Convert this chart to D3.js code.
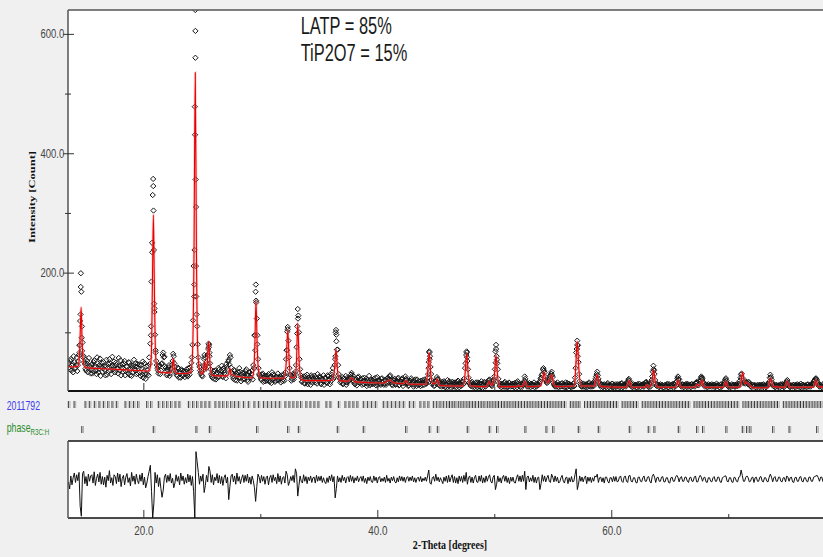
<!DOCTYPE html>
<html>
<head>
<meta charset="utf-8">
<script src="https://cdn.jsdelivr.net/npm/d3@7"></script>
<style>
  body { margin: 0; background: #f0f0f0; }
  svg { display: block; }
</style>
</head>
<body>
<svg id="chart"></svg>
<script>
// ---- data ----
// observed counts, one row per degree; two interleaved scans (x.x0 and x.x5)
var scanStart = 13.6, scanStep = 0.1;
var obsRows = [
  [48, 38, 55, 44, 33, 50, 41, 58, 45, 62],
  [119, 168, 83, 60, 47, 36, 52, 40, 44, 31],
  [46, 35, 53, 41, 30, 48, 39, 56, 42, 34],
  [50, 37, 43, 29, 47, 55, 36, 44, 38, 51],
  [33, 45, 40, 57, 36, 28, 46, 39, 52, 35],
  [42, 31, 49, 38, 27, 44, 54, 36, 30, 47],
  [40, 33, 45, 29, 24, 48, 22, 30, 44, 58],
  [81, 185, 330, 238, 96, 52, 40, 31, 45, 36],
  [48, 66, 59, 40, 28, 37, 45, 31, 38, 52],
  [60, 42, 33, 27, 39, 31, 24, 36, 29, 34],
  [30, 38, 26, 33, 41, 49, 79, 211, 478, 310],
  [110, 58, 42, 31, 28, 36, 55, 44, 50, 62],
  [75, 48, 30, 24, 35, 28, 21, 33, 40, 26],
  [30, 44, 25, 36, 29, 47, 38, 54, 62, 41],
  [30, 22, 35, 27, 19, 33, 40, 24, 29, 21],
  [31, 26, 38, 20, 28, 33, 24, 36, 45, 95],
  [168, 123, 55, 30, 26, 20, 31, 24, 18, 27],
  [22, 30, 17, 26, 33, 21, 28, 19, 25, 31],
  [20, 27, 23, 18, 29, 26, 55, 101, 86, 40],
  [28, 22, 30, 25, 34, 75, 139, 100, 38, 24],
  [18, 26, 14, 23, 29, 17, 21, 12, 25, 20],
  [27, 16, 22, 30, 19, 24, 13, 21, 28, 18],
  [23, 15, 26, 20, 17, 29, 40, 25, 55, 96],
  [71, 30, 22, 18, 25, 14, 20, 27, 16, 21],
  [19, 25, 32, 28, 17, 13, 22, 18, 26, 15],
  [21, 12, 18, 24, 15, 10, 20, 27, 14, 19],
  [13, 22, 17, 11, 25, 16, 19, 12, 23, 18],
  [14, 20, 15, 24, 21, 28, 16, 11, 19, 22],
  [13, 18, 24, 12, 17, 21, 10, 16, 26, 20],
  [15, 11, 19, 23, 13, 9, 18, 14, 21, 12],
  [17, 10, 15, 20, 12, 18, 14, 24, 50, 60],
  [30, 13, 17, 11, 19, 25, 21, 12, 16, 9],
  [14, 18, 8, 12, 20, 10, 15, 7, 17, 13],
  [9, 16, 12, 19, 8, 14, 11, 17, 22, 40],
  [62, 52, 24, 14, 10, 17, 12, 8, 15, 11],
  [16, 9, 13, 18, 7, 12, 15, 10, 14, 19],
  [21, 13, 10, 17, 26, 68, 60, 38, 15, 11],
  [8, 14, 11, 17, 7, 13, 10, 15, 9, 12],
  [14, 8, 11, 16, 18, 10, 13, 7, 12, 15],
  [26, 17, 9, 12, 15, 8, 13, 10, 16, 11],
  [9, 14, 12, 18, 24, 30, 40, 33, 20, 15],
  [17, 22, 28, 34, 25, 13, 9, 12, 16, 8],
  [13, 10, 15, 9, 12, 16, 8, 11, 14, 10],
  [12, 9, 15, 24, 66, 79, 50, 18, 12, 9],
  [14, 10, 8, 13, 11, 16, 9, 12, 15, 10],
  [18, 26, 34, 22, 14, 9, 12, 8, 13, 10],
  [11, 15, 8, 12, 9, 14, 10, 7, 13, 11],
  [9, 13, 10, 15, 8, 12, 11, 14, 17, 22],
  [16, 10, 8, 13, 9, 12, 7, 11, 14, 8],
  [10, 13, 9, 15, 17, 11, 8, 12, 16, 26],
  [44, 30, 14, 10, 12, 8, 13, 9, 11, 7],
  [12, 9, 14, 8, 11, 10, 13, 7, 12, 15],
  [18, 26, 21, 12, 9, 13, 8, 11, 10, 14],
  [9, 12, 8, 13, 10, 11, 15, 17, 12, 14],
  [19, 26, 22, 14, 9, 12, 8, 13, 10, 11],
  [13, 9, 12, 8, 14, 10, 11, 7, 13, 10],
  [12, 18, 23, 15, 9, 11, 8, 13, 10, 12],
  [9, 13, 10, 14, 19, 29, 24, 15, 17, 18],
  [16, 13, 15, 10, 8, 12, 9, 11, 7, 12],
  [10, 8, 12, 9, 13, 7, 11, 10, 14, 17],
  [29, 21, 13, 10, 8, 12, 9, 11, 7, 13],
  [10, 12, 9, 14, 18, 15, 10, 8, 11, 9],
  [12, 8, 11, 13, 9, 10, 14, 7, 12, 9],
  [11, 8, 13, 9, 12, 10, 14, 17, 20, 23],
  [18, 12, 9, 11, 8, 13, 10, 9, 12, 8]
];
var obsRowsMid = [
  [41, 52, 36, 47, 60, 39, 45, 35, 51, 78],
  [176, 110, 58, 50, 39, 48, 33, 57, 42, 38],
  [31, 50, 44, 36, 58, 33, 45, 27, 49, 40],
  [43, 28, 54, 40, 35, 48, 30, 59, 42, 37],
  [49, 39, 31, 44, 53, 41, 34, 48, 28, 43],
  [36, 50, 28, 45, 41, 33, 39, 48, 42, 31],
  [46, 27, 39, 51, 35, 30, 43, 36, 28, 47],
  [95, 250, 345, 140, 66, 45, 36, 44, 30, 47],
  [62, 58, 43, 35, 30, 41, 27, 39, 46, 64],
  [48, 36, 29, 41, 24, 33, 38, 27, 35, 25],
  [34, 28, 40, 29, 36, 58, 120, 180, 560, 130],
  [80, 47, 36, 33, 26, 44, 58, 39, 47, 72],
  [66, 38, 27, 31, 22, 36, 30, 24, 37, 29],
  [35, 27, 40, 32, 23, 42, 51, 46, 58, 33],
  [26, 37, 20, 31, 28, 24, 34, 18, 32, 27],
  [22, 35, 29, 17, 33, 25, 30, 21, 40, 95],
  [150, 95, 40, 28, 22, 29, 17, 27, 23, 19],
  [27, 19, 24, 15, 29, 23, 17, 26, 20, 24],
  [24, 16, 28, 21, 19, 33, 70, 105, 58, 29],
  [19, 27, 21, 30, 45, 98, 128, 55, 28, 17],
  [22, 15, 27, 19, 13, 24, 20, 28, 16, 23],
  [19, 25, 14, 21, 26, 15, 23, 18, 12, 24],
  [17, 28, 21, 13, 24, 33, 22, 45, 100, 71],
  [45, 24, 16, 21, 13, 23, 17, 12, 24, 19],
  [22, 29, 24, 19, 14, 20, 11, 24, 17, 21],
  [16, 23, 13, 19, 22, 14, 17, 11, 21, 15],
  [19, 14, 24, 16, 12, 20, 14, 22, 15, 12],
  [20, 12, 22, 17, 26, 19, 13, 21, 16, 12],
  [17, 22, 11, 19, 14, 23, 15, 20, 22, 14],
  [10, 17, 13, 20, 16, 12, 21, 10, 15, 18],
  [13, 19, 11, 16, 21, 14, 18, 30, 66, 42],
  [20, 15, 10, 18, 14, 22, 16, 10, 14, 17],
  [10, 16, 13, 7, 15, 18, 11, 14, 9, 16],
  [13, 8, 17, 11, 15, 10, 18, 13, 15, 48],
  [66, 38, 16, 12, 15, 9, 14, 11, 16, 8],
  [12, 15, 8, 14, 11, 17, 9, 13, 16, 20],
  [16, 11, 14, 20, 38, 72, 48, 22, 10, 14],
  [12, 9, 15, 10, 14, 8, 16, 11, 13, 10],
  [10, 15, 12, 8, 14, 12, 9, 14, 11, 18],
  [22, 12, 14, 9, 11, 14, 10, 12, 8, 13],
  [12, 11, 15, 22, 28, 38, 36, 26, 17, 19],
  [20, 26, 31, 28, 16, 11, 14, 9, 12, 11],
  [9, 14, 11, 13, 8, 12, 15, 10, 12, 8],
  [11, 14, 10, 40, 72, 78, 30, 14, 9, 12],
  [9, 13, 11, 8, 14, 10, 12, 9, 11, 14],
  [22, 30, 28, 17, 11, 13, 9, 12, 10, 8],
  [13, 9, 12, 10, 14, 8, 12, 10, 9, 13],
  [12, 8, 14, 9, 11, 13, 9, 12, 20, 19],
  [12, 13, 9, 10, 12, 8, 13, 9, 11, 12],
  [12, 9, 13, 16, 12, 10, 13, 9, 20, 34],
  [36, 20, 11, 13, 9, 11, 10, 12, 8, 11],
  [10, 12, 8, 13, 9, 12, 10, 14, 9, 11],
  [23, 22, 15, 10, 12, 9, 11, 13, 8, 12],
  [11, 9, 13, 10, 12, 9, 14, 16, 11, 17],
  [23, 24, 17, 11, 12, 10, 11, 9, 12, 9],
  [11, 12, 9, 11, 10, 12, 8, 12, 9, 12],
  [15, 21, 19, 11, 12, 9, 11, 10, 12, 9],
  [12, 10, 13, 11, 24, 31, 19, 17, 14, 16],
  [14, 17, 12, 9, 11, 10, 12, 8, 10, 9],
  [12, 10, 9, 12, 10, 11, 8, 13, 12, 24],
  [25, 16, 10, 12, 9, 10, 11, 9, 12, 10],
  [13, 8, 12, 16, 20, 12, 9, 11, 10, 12],
  [10, 12, 9, 11, 12, 8, 11, 12, 9, 11],
  [9, 12, 10, 11, 9, 13, 12, 19, 22, 21],
  [15, 10, 12, 9, 11, 10, 12, 11, 9, 10]
];
// extra observed points on the steep peak flanks [2theta, counts]
var obsPeakPoints = [
  [14.66, 199], [14.64, 130], [14.73, 91], [14.58, 79], [14.76, 69], [14.55, 66],
  [20.84, 357], [20.87, 304], [20.76, 234], [20.92, 148], [20.95, 134], [20.66, 110], [21.04, 70],
  [24.44, 640], [24.45, 605], [24.42, 431], [24.47, 356], [24.38, 238], [24.49, 211], [24.52, 160], [24.35, 160],
  [25.58, 81], [25.62, 79], [25.66, 60], [25.22, 62],
  [29.62, 180], [29.64, 153], [29.57, 70], [29.74, 80],
  [32.34, 109], [32.28, 70], [33.22, 123], [33.16, 110],
  [36.47, 104], [36.5, 85], [36.42, 60],
  [44.44, 68], [44.47, 55], [44.38, 40],
  [47.64, 68], [47.67, 58],
  [50.15, 79], [50.12, 49], [50.22, 54],
  [57.09, 86], [57.05, 72], [57.13, 60],
  [63.63, 38]
];
// calculated profile [2theta, counts]
var calcProfile = [
  [13.5, 43], [14.0, 42], [14.4, 43], [14.52, 55], [14.6, 95], [14.68, 142], [14.76, 90], [14.85, 55], [14.98, 42],
  [15.5, 40], [16.5, 39], [17.5, 38], [18.5, 37], [19.5, 36], [20.4, 35],
  [20.55, 38], [20.68, 60], [20.77, 170], [20.86, 297], [20.95, 165], [21.04, 65], [21.18, 38], [21.4, 33],
  [22.3, 32], [22.45, 37], [22.56, 56], [22.68, 37], [22.9, 31], [23.6, 31], [24.05, 33],
  [24.2, 62], [24.33, 230], [24.44, 535], [24.54, 230], [24.65, 70], [24.8, 38], [25.0, 30],
  [25.12, 33], [25.22, 52], [25.32, 36], [25.45, 45], [25.58, 85], [25.7, 48], [25.85, 29],
  [26.2, 27], [27.2, 27], [27.32, 33], [27.4, 40], [27.5, 30], [28.0, 26], [29.3, 24],
  [29.45, 38], [29.54, 85], [29.63, 153], [29.72, 85], [29.83, 38], [30.0, 24], [31.0, 23], [32.05, 23],
  [32.2, 45], [32.35, 104], [32.47, 50], [32.6, 24], [32.95, 24], [33.08, 45], [33.2, 115], [33.32, 50], [33.5, 21],
  [34.0, 19], [35.5, 19], [36.2, 20], [36.34, 38], [36.47, 72], [36.6, 36], [36.78, 19],
  [37.5, 18], [37.8, 24], [38.1, 17], [39.0, 16], [40.5, 15], [41.1, 20], [41.4, 15], [42.2, 14], [42.45, 19], [42.7, 13],
  [44.15, 13], [44.3, 32], [44.44, 66], [44.57, 30], [44.75, 14], [45.0, 15], [45.13, 22], [45.3, 11],
  [47.35, 10], [47.5, 30], [47.64, 65], [47.78, 28], [47.95, 10],
  [49.35, 9], [49.57, 18], [49.75, 11], [49.95, 18], [50.05, 38], [50.15, 62], [50.27, 30], [50.42, 9],
  [51.9, 9], [52.05, 11], [52.25, 9], [52.45, 10], [52.62, 18], [52.8, 9],
  [53.95, 10], [54.12, 20], [54.25, 34], [54.4, 20], [54.6, 15], [54.9, 29], [55.1, 12], [55.3, 9],
  [56.85, 10], [56.97, 45], [57.09, 85], [57.22, 42], [57.4, 10],
  [58.55, 10], [58.68, 20], [58.8, 29], [58.95, 14], [59.2, 9],
  [61.3, 8], [61.54, 19], [61.75, 8], [62.9, 8], [63.05, 12], [63.2, 8], [63.45, 14], [63.62, 37], [63.78, 15], [64.0, 8],
  [65.5, 8], [65.73, 20], [65.95, 8], [67.15, 8], [67.35, 13], [67.52, 10], [67.75, 20], [67.95, 8],
  [69.6, 8], [69.8, 18], [70.0, 8], [71.0, 8], [71.23, 33], [71.42, 14], [71.57, 16], [71.85, 11], [72.1, 7],
  [73.4, 7], [73.6, 23], [73.85, 9], [74.85, 8], [75.04, 18], [75.25, 8], [77.3, 8], [77.5, 20], [77.7, 9], [78.2, 8]
];
// difference curve, 0.1 step from 13.6
var diffStart = 13.6, diffStep = 0.1;
var diffRows = [
  [-4, -16, 6, -9, 3, 11, -5, 8, -2, 12],
  [-45, -62, 10, 14, -7, 5, -11, 9, -3, 6],
  [8, -6, 13, -10, 2, 9, -4, 12, -8, 5],
  [-9, 4, -13, 7, -2, 15, -6, 3, -10, 8],
  [5, -7, 11, -4, 9, -12, 2, 7, -9, 4],
  [10, -5, 3, -11, 12, -3, 6, -8, 9, -2],
  [-7, 8, -3, 11, -9, 4, -14, -6, 5, 14],
  [24, -20, -65, -40, 12, -6, 8, -12, 3, -15],
  [-30, -18, 4, 9, -5, 7, -3, 10, -6, 2],
  [-14, -6, 8, -3, 5, -9, 11, -2, 6, -8],
  [3, -6, 9, -4, 7, -10, 5, -20, -65, 47],
  [30, 12, -8, 6, -3, 9, -22, -10, 7, -4],
  [22, 14, -5, 8, -9, 4, -2, 10, -6, 7],
  [-7, 5, -10, 3, 8, -6, 4, -34, -12, 6],
  [9, -4, 6, -8, 11, -3, 5, -7, 2, 8],
  [-5, 7, -3, 9, -6, 4, -8, 6, -2, -14],
  [-37, -12, 9, 4, -6, 7, -3, 5, -8, 3],
  [6, -9, 3, 7, -5, 8, -2, 4, -7, 10],
  [-4, 6, -8, 3, 5, -6, 14, 8, -10, -4],
  [5, -2, 7, -5, 18, 10, -28, -10, 6, -3],
  [-6, 8, -3, 5, -7, 4, -2, 6, -5, 3],
  [4, -6, 7, -3, 5, -2, 6, -5, 3, -4],
  [-7, 3, -5, 6, -2, 8, -4, 5, -31, -15],
  [6, -4, 3, -5, 7, -2, 4, -6, 3, 5],
  [-4, 7, -3, 5, -6, 3, -2, 6, -4, 2],
  [5, -3, 6, -5, 2, -7, 4, -2, 5, -4],
  [-5, 6, -2, 4, -6, 3, 5, -4, 2, -3],
  [4, -5, 7, -3, 2, -6, 4, -2, 5, -4],
  [-6, 3, -4, 6, -2, 5, -3, 4, -5, 3],
  [5, -3, 4, -2, 6, -4, 3, -5, 2, 4],
  [-3, 5, -4, 2, -2, 4, -3, 6, 16, -6],
  [-8, 3, 5, -3, 9, -2, 4, -4, 3, -2],
  [-7, 4, -3, 6, -5, 7, -4, 3, 8, -5],
  [5, -6, 3, -7, 6, -3, 5, -5, 7, -3],
  [12, -8, 3, 6, -5, 4, -6, 3, 7, -4],
  [-5, 6, -3, 7, -6, 3, -5, 6, -3, 4],
  [8, -3, -6, 4, 7, -17, -8, 6, -4, 3],
  [-6, 4, 7, -3, 6, -5, 3, -7, 4, -3],
  [4, -5, -6, 3, 8, -3, 6, -4, 7, -3],
  [14, -17, 4, 6, -4, 3, -3, 7, -5, 4],
  [-6, 3, 4, -17, -7, 8, -3, 6, -4, 3],
  [7, -3, -5, 9, 4, -4, 6, -3, 4, -6],
  [-4, 3, 7, -3, -6, 3, 4, -7, 3, -4],
  [5, -4, -3, 8, 18, -17, -8, 6, -3, 4],
  [-4, 3, 6, -7, 4, -3, 4, -5, 3, -3],
  [6, 4, 9, -5, 3, 4, -4, 3, -6, 4],
  [4, -3, -6, 3, 3, -4, 5, -3, 5, -4],
  [-3, 4, 6, -3, -5, 4, 6, -3, -5, 6],
  [7, -3, -4, 3, 3, -5, -6, 4, 4, -3],
  [-4, 3, 6, -3, -3, 4, 5, -3, -6, 5],
  [9, 4, -5, 3, 4, -3, -3, 4, 5, -4],
  [-4, 3, 3, -5, -6, 3, 4, -3, -3, 4],
  [7, 4, -4, 3, 5, -3, -3, 4, 4, -3],
  [-5, 3, 4, -3, -3, 4, 6, -4, -4, 3],
  [7, 4, -3, 3, 4, -4, -5, 3, 3, -3],
  [-4, 3, 5, -3, -3, 4, 4, -4, -5, 3],
  [4, 6, 6, -3, -4, 3, 3, -4, -5, 4],
  [3, -3, -4, 4, 5, 16, 7, -3, -3, 4],
  [6, 3, -4, -3, 3, 4, -5, 3, 4, -3],
  [-3, 4, 5, -3, -4, 3, 3, -3, -4, 4],
  [9, 4, -4, 3, 5, -3, -3, 4, 4, -3],
  [-4, 3, 3, -4, 6, 4, -3, 3, 4, -4],
  [-5, 3, 4, -3, -3, 4, 5, -3, -4, 3],
  [3, -3, -4, 4, 4, -3, -3, 4, 5, 6],
  [7, 3, -3, 4, 4, -4, -3, 3, 3, -3]
];
// reflection markers (2theta)
var ticksTiP2O7 = [
  13.59, 14.08, 15.02, 15.38, 15.81, 16.21, 16.58, 16.96, 17.32, 17.69, 18.44, 18.80, 19.15, 19.52,
  20.29, 20.63, 21.28, 21.66, 22.00, 22.34, 22.71, 23.05, 23.85, 24.22, 24.56, 24.93, 25.27, 25.62,
  26.13, 26.47, 26.79, 27.13, 27.47, 27.78, 28.12, 28.55, 28.97, 29.46, 29.83, 30.26, 30.60, 30.94,
  31.28, 31.62, 32.11, 32.45, 32.79, 33.13, 33.45, 33.90, 34.25, 34.59, 34.93, 35.62, 35.96, 36.67,
  37.24, 37.58, 37.92, 38.26, 38.80, 39.15, 39.49, 39.83, 40.51, 40.85, 41.20, 41.54, 41.88, 42.22,
  42.74, 43.08, 43.65, 43.99, 44.33, 44.79, 45.08, 45.36, 45.64, 45.93, 46.17, 46.40, 46.63, 46.92,
  47.15, 47.40, 47.66, 47.90, 48.15, 48.38, 48.65, 48.88, 49.12, 49.40, 49.63, 49.88, 50.13, 50.36,
  50.62, 50.85, 51.10, 51.34, 51.60, 51.83, 52.08, 52.32, 52.58, 52.82, 53.06, 53.30, 53.56, 53.80,
  54.04, 54.30, 54.55, 54.78, 55.02, 55.27, 55.52, 55.76, 56.00, 56.50, 56.74, 56.99, 57.23, 57.72,
  57.98, 58.22, 58.46, 58.72, 58.96, 59.20, 59.45, 59.70, 59.94, 60.19, 60.44, 60.93, 61.18, 61.42,
  61.67, 61.91, 62.16, 62.65, 62.90, 63.14, 63.39, 63.64, 63.88, 64.13, 64.37, 64.62, 64.87, 65.11,
  65.36, 65.60, 65.85, 66.10, 66.34, 66.59, 67.08, 67.33, 67.57, 67.82, 68.06, 68.31, 68.56, 68.80,
  69.05, 69.29, 69.54, 69.79, 70.03, 70.28, 70.52, 70.77, 71.26, 71.51, 71.75, 72.00, 72.25, 72.49,
  72.74, 72.98, 73.23, 73.48, 73.72, 73.97, 74.21, 74.71, 74.95, 75.20, 75.44, 75.69, 75.94, 76.18,
  76.43, 76.67, 76.92, 77.17, 77.41, 77.66, 77.90
];
var ticksLATP = [
  14.74, 20.85, 24.50, 25.64, 29.69, 32.34, 33.25, 36.58, 38.80, 42.43, 44.44, 45.13, 47.69, 49.57,
  50.20, 52.62, 54.42, 55.00, 57.18, 58.89, 61.54, 63.16, 63.65, 65.73, 67.30, 67.81, 69.80, 71.20,
  71.57, 71.85, 73.80, 75.20, 77.56
];
var yMajor = [200, 400, 600], yMinor = [100, 300, 500];
var xMajor = [20, 40, 60], xMinor = [30, 50, 70];
var notes = ["LATP = 85%", "TiP2O7 = 15%"];

// ---- layout ----
var width = 823, height = 557;
var sans = "'Liberation Sans', Arial, sans-serif";
var serif = "'Liberation Serif', 'Times New Roman', serif";

var svg = d3.select("#chart").attr("width", width).attr("height", height);
svg.append("rect").attr("width", width).attr("height", height).attr("fill", "#f0f0f0");

var x = d3.scaleLinear().domain([13.56, 78.1]).range([68, 823]);
var y = d3.scaleLinear().domain([0, 640]).range([392, 10]);
var yDiff = d3.scaleLinear().domain([-65, 65]).range([518, 441]);

// white panels
svg.append("rect").attr("x", 68).attr("y", 10).attr("width", 760).attr("height", 381).attr("fill", "#fff");
svg.append("rect").attr("x", 68).attr("y", 441).attr("width", 760).attr("height", 77).attr("fill", "#fff");

var defs = svg.append("defs");
defs.append("clipPath").attr("id", "clipMain").append("rect")
    .attr("x", 68).attr("y", 10).attr("width", 760).attr("height", 381);
defs.append("clipPath").attr("id", "clipDiff").append("rect")
    .attr("x", 68).attr("y", 441).attr("width", 760).attr("height", 77);

var main = svg.append("g").attr("clip-path", "url(#clipMain)");

// observed points (both interleaved scans + flank points)
var obsPoints = [];
d3.merge(obsRows).forEach(function(c, i) {
    obsPoints.push([scanStart + i * scanStep, c]);
});
d3.merge(obsRowsMid).forEach(function(c, i) {
    obsPoints.push([scanStart + scanStep / 2 + i * scanStep, c]);
});
obsPoints = obsPoints.concat(obsPeakPoints);

var diamond = d3.symbol().type(d3.symbolDiamond2 || d3.symbolDiamond).size(18);
main.selectAll("path.obs")
    .data(obsPoints)
    .enter().append("path")
    .attr("class", "obs")
    .attr("d", diamond)
    .attr("transform", function(d) { return "translate(" + x(d[0]) + "," + y(d[1]) + ")"; })
    .attr("fill", "none")
    .attr("stroke", "#151515")
    .attr("stroke-width", 1);

// calculated curve (pink halo + red line)
var calcLine = d3.line()
    .x(function(d) { return x(d[0]); })
    .y(function(d) { return y(d[1]); })
    .curve(d3.curveMonotoneX);
main.append("path").datum(calcProfile)
    .attr("d", calcLine).attr("fill", "none")
    .attr("stroke", "#ff9a9a").attr("stroke-width", 2.6).attr("opacity", 0.45);
main.append("path").datum(calcProfile)
    .attr("d", calcLine).attr("fill", "none")
    .attr("stroke", "#e80000").attr("stroke-width", 1.1);

// difference curve
var diffLine = d3.line()
    .x(function(d, i) { return x(diffStart + i * diffStep); })
    .y(function(d) { return yDiff(d); });
svg.append("g").attr("clip-path", "url(#clipDiff)")
    .append("path").datum(d3.merge(diffRows))
    .attr("d", diffLine).attr("fill", "none")
    .attr("stroke", "#111").attr("stroke-width", 1);

// reflection marker rows
var rows = [
    {list: ticksTiP2O7, y1: 401, y2: 408},
    {list: ticksLATP, y1: 426, y2: 433}
];
rows.forEach(function(r) {
    var g = svg.append("g");
    g.selectAll("line.k2").data(r.list).enter().append("line")
        .attr("x1", function(d) { return x(d) + 1.6; }).attr("x2", function(d) { return x(d) + 1.6; })
        .attr("y1", r.y1).attr("y2", r.y2)
        .attr("stroke", "#aaa").attr("stroke-width", 1);
    g.selectAll("line.k1").data(r.list).enter().append("line")
        .attr("x1", function(d) { return x(d); }).attr("x2", function(d) { return x(d); })
        .attr("y1", r.y1).attr("y2", r.y2)
        .attr("stroke", "#333").attr("stroke-width", 1);
});

// frame lines
function hline(y0, c, w) {
    svg.append("line").attr("x1", 68).attr("x2", 823).attr("y1", y0).attr("y2", y0)
        .attr("stroke", c).attr("stroke-width", w);
}
function vline(y0, y1) {
    svg.append("line").attr("x1", 68).attr("x2", 68).attr("y1", y0).attr("y2", y1)
        .attr("stroke", "#555").attr("stroke-width", 1.5);
}
hline(10, "#555", 1.5);
hline(391, "#111", 2);
hline(441, "#111", 1.5);
hline(518, "#111", 1.5);
vline(10, 391);
vline(441, 518);

// y axis
var gy = svg.append("g").attr("transform", "translate(68,0)")
    .call(d3.axisLeft(y).tickValues(yMajor).tickFormat(d3.format(".1f")).tickSize(5));
gy.select(".domain").remove();
gy.selectAll(".tick line").attr("x1", 6).attr("x2", -5).attr("stroke", "#333");
gy.selectAll(".tick text")
    .attr("x", -5).attr("transform", "scale(0.76,1)")
    .attr("fill", "#444").style("font", "12.5px " + sans);
var gyMinor = svg.append("g").attr("transform", "translate(68,0)")
    .call(d3.axisLeft(y).tickValues(yMinor).tickFormat("").tickSize(3));
gyMinor.select(".domain").remove();
gyMinor.selectAll(".tick line").attr("x1", 3).attr("x2", -3).attr("stroke", "#333");

// x axis ticks on both panels
[391, 518].forEach(function(yy) {
    var gMaj = svg.append("g").attr("transform", "translate(0," + yy + ")")
        .call(d3.axisBottom(x).tickValues(xMajor).tickFormat(d3.format(".1f")).tickSize(-8));
    gMaj.select(".domain").remove();
    gMaj.selectAll(".tick line").attr("stroke", "#333");
    if (yy === 518) {
        gMaj.selectAll(".tick text")
            .attr("y", 17).attr("dy", null).attr("transform", "scale(0.76,1)")
            .attr("fill", "#444").style("font", "13px " + sans);
    } else {
        gMaj.selectAll(".tick text").remove();
    }
    var gMin = svg.append("g").attr("transform", "translate(0," + yy + ")")
        .call(d3.axisBottom(x).tickValues(xMinor).tickFormat("").tickSize(-4));
    gMin.select(".domain").remove();
    gMin.selectAll(".tick line").attr("stroke", "#333");
});

// axis titles
svg.append("text")
    .attr("transform", "translate(35,197) rotate(-90) scale(1,0.72)")
    .attr("text-anchor", "middle")
    .style("font", "bold 12.5px " + serif)
    .attr("fill", "#111")
    .text("Intensity [Count]");
svg.append("text")
    .attr("transform", "translate(450,549) scale(0.8,1)")
    .attr("text-anchor", "middle")
    .style("font", "bold 12.5px " + serif)
    .attr("fill", "#111")
    .text("2-Theta [degrees]");

// phase labels
svg.append("text")
    .attr("transform", "translate(6.7,409.5) scale(0.7,1)")
    .style("font", "12.5px " + sans).attr("fill", "#3c3cf0")
    .text("2011792");
var ph = svg.append("text")
    .attr("transform", "translate(6.7,432) scale(0.7,1)")
    .style("font", "12.5px " + sans).attr("fill", "#2a8c2a");
ph.append("tspan").text("phase");
ph.append("tspan").attr("dy", 2.5).style("font-size", "9px").text("R3C:H");

// annotation
svg.selectAll("text.note").data(notes).enter().append("text")
    .attr("class", "note")
    .attr("transform", function(d, i) { return "translate(300.7," + (34.3 + i * 27) + ") scale(0.67,1)"; })
    .style("font", "24.5px " + sans).attr("fill", "#1a1a1a")
    .text(function(d) { return d; });
</script>
</body>
</html>
